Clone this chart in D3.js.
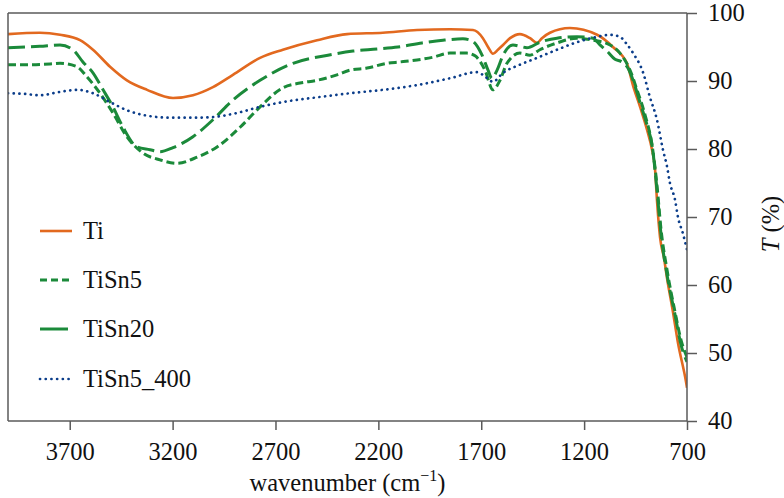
<!DOCTYPE html>
<html><head><meta charset="utf-8">
<script src="https://cdn.jsdelivr.net/npm/d3@7"></script>
<style>
body{margin:0;background:#fff}
svg text, svg tspan { font-family: "Liberation Serif", "Times New Roman", Tinos, Times !important; }
</style>
</head><body><svg id="c" width="784" height="498" font-family="Liberation Serif"></svg>
<script>
// ---- data ----
const seriesNames = ["Ti", "TiSn5", "TiSn20", "TiSn5_400"];
const xTicks = [3700, 3200, 2700, 2200, 1700, 1200, 700];
const yTicks = [40, 50, 60, 70, 80, 90, 100];

const tiWn = [4000,3845,3747,3650,3587,3504,3422,3324,3198,3101,3004,2907,2775,2664,2498,2352,2178,2012,1852,1740,1692,1667,1643,1619,1594,1560,1512,1463,1429,1405,1366,1269,1137,1060,992,962,928,894,870,855,846,831,812,797,768,744,705,700];
const tiT  = [96.9,97.1,96.8,96.0,94.6,92.1,90.1,88.7,87.5,87.9,89.1,90.9,93.4,94.6,96.0,96.9,97.1,97.5,97.6,97.5,96.3,95.0,94.0,94.6,95.3,96.3,96.9,96.3,95.6,96.3,97.1,97.8,96.8,95.0,92.6,89.3,86.2,82.8,79.9,76.9,72.5,67.0,64.0,61.0,56.0,51.5,45.8,44.9];

const tiSn5Wn = [4000,3893,3796,3747,3665,3616,3553,3490,3422,3344,3261,3179,3081,2984,2872,2775,2664,2581,2498,2401,2338,2255,2158,2095,2012,1934,1852,1769,1730,1682,1643,1609,1575,1512,1463,1415,1332,1235,1157,1074,1026,977,943,904,870,846,826,797,758,729,700];
const tiSn5T  = [92.4,92.4,92.5,92.6,92.1,90.6,88.2,85.3,81.8,79.4,78.4,77.9,78.8,80.3,83.2,86.2,89.0,89.7,90.1,90.9,91.6,91.9,92.6,92.8,93.1,93.5,94.1,94.1,93.7,91.6,88.7,90.1,92.6,94.1,93.8,94.6,95.6,96.3,96.0,95.3,94.1,91.6,88.7,85.0,80.6,74.7,68.1,62.2,56.0,51.9,49.4];

const tiSn20Wn = [4000,3845,3747,3684,3636,3587,3538,3490,3441,3373,3310,3261,3198,3101,3004,2907,2775,2615,2445,2323,2207,2105,1988,1886,1789,1745,1696,1667,1648,1623,1594,1546,1512,1478,1415,1332,1235,1157,1123,1089,1050,1016,987,962,928,894,870,846,826,797,758,729,700];
const tiSn20T  = [94.9,95.1,95.3,94.6,92.8,91.2,88.7,86.2,83.2,80.3,79.9,79.6,80.2,81.8,84.3,87.2,90.1,92.6,93.8,94.4,94.7,95.0,95.6,96.0,96.2,95.9,93.8,91.6,90.4,91.6,93.8,95.3,95.1,94.9,95.7,96.3,96.5,96.3,95.3,94.4,93.2,92.8,91.9,90.1,86.8,83.5,80.6,74.0,67.4,61.5,55.6,51.2,48.7];

const tiSn5_400Wn = [4000,3917,3845,3747,3665,3587,3504,3422,3324,3213,3101,3004,2887,2775,2664,2498,2338,2178,2012,1852,1721,1692,1643,1594,1512,1429,1332,1235,1137,1074,1026,992,962,913,880,846,817,797,783,758,744,720,700];
const tiSn5_400T  = [88.2,88.1,87.9,88.4,88.7,88.2,86.9,85.7,84.9,84.6,84.6,84.7,85.3,86.2,86.9,87.6,88.2,88.7,89.4,90.4,91.3,90.9,89.9,91.2,92.4,93.4,94.6,95.7,96.5,96.8,96.5,95.4,94.1,91.2,87.6,84.3,79.9,77.4,75.0,72.5,70.0,67.6,65.2];

const colors = ["#e2691f", "#1b8a3a", "#1b8a3a", "#0b3d8a"];
// ---- chart ----
const svg = d3.select("#c");
const L = 8, R = 687, T = 13, B = 421;
const x = d3.scaleLinear().domain([4000, 700]).range([L, R]);
const y = d3.scaleLinear().domain([40, 100]).range([B, T]);
const fs = "24.5px";
function serif(sel, fam) {
  return sel.attr("font-family", fam).style("font-family", `"${fam}"`).style("font-size", fs);
}

const series = [
  {name: seriesNames[0], wn: tiWn, t: tiT, color: colors[0], dash: null, w: 2.6},
  {name: seriesNames[1], wn: tiSn5Wn, t: tiSn5T, color: colors[1], dash: "8,4", w: 3},
  {name: seriesNames[2], wn: tiSn20Wn, t: tiSn20T, color: colors[2], dash: "17,6", w: 3},
  {name: seriesNames[3], wn: tiSn5_400Wn, t: tiSn5_400T, color: colors[3], dash: "0.1,5.6", w: 2.7, cap: "round"}
];

svg.append("defs").append("clipPath").attr("id", "clip")
  .append("rect").attr("x", L).attr("y", T - 2).attr("width", R - L).attr("height", B - T + 2);

const line = d3.line().x(d => x(d[0])).y(d => y(d[1])).curve(d3.curveMonotoneX);
const g = svg.append("g").attr("clip-path", "url(#clip)");
series.forEach(s => {
  const pts = s.wn.map((w, i) => [w, s.t[i]]);
  g.append("path").datum(pts).attr("d", line)
    .attr("fill", "none").attr("stroke", s.color).attr("stroke-width", s.w)
    .attr("stroke-dasharray", s.dash).attr("stroke-linecap", s.cap || "butt")
    .attr("stroke-linejoin", "round");
});

// frame
const frameColor = "#5a5a5a";
svg.append("line").attr("x1", L).attr("x2", R).attr("y1", T).attr("y2", T).attr("stroke", frameColor).attr("stroke-width", 1.5);
svg.append("line").attr("x1", L).attr("x2", L).attr("y1", T).attr("y2", B).attr("stroke", frameColor).attr("stroke-width", 1.5);

const xAxis = svg.append("g").attr("transform", `translate(0,${B})`)
  .call(d3.axisBottom(x).tickValues(xTicks).tickFormat(d3.format("d")).tickSize(9).tickPadding(13).tickSizeOuter(0));
const yAxis = svg.append("g").attr("transform", `translate(${R},0)`)
  .call(d3.axisRight(y).tickValues(yTicks).tickFormat(d3.format("d")).tickSize(10).tickPadding(11).tickSizeOuter(0));
[xAxis, yAxis].forEach(a => {
  a.attr("font-family", "Liberation Serif").attr("font-size", 24.5);
  a.select(".domain").attr("stroke", frameColor).attr("stroke-width", 1.5);
  a.selectAll(".tick line").attr("stroke", frameColor).attr("stroke-width", 1.5);
  serif(a.selectAll(".tick text").attr("fill", "#111"), "Times New Roman");
});
xAxis.select(".domain").attr("d", `M${L},0H${R}`);
yAxis.select(".domain").attr("d", `M0,${T}V${B}`);

// axis titles
const xt = serif(svg.append("text"), "Tinos").attr("x", (L + R) / 2).attr("y", 491).attr("text-anchor", "middle").attr("fill", "#111");
xt.append("tspan").text("wavenumber (cm");
xt.append("tspan").attr("dy", -10).style("font-size", "16px").text("\u22121");
xt.append("tspan").attr("dy", 10).text(")");

const yt = serif(svg.append("text"), "Tinos").attr("transform", `translate(779,${(T + B) / 2 + 7}) rotate(-90)`)
  .attr("text-anchor", "middle").attr("fill", "#111");
yt.append("tspan").style("font-style", "italic").text("T");
yt.append("tspan").text(" (%)");

// legend
const legY = [231, 280, 329, 379];
series.forEach((s, i) => {
  svg.append("line").attr("x1", 40).attr("x2", 72).attr("y1", legY[i]).attr("y2", legY[i])
    .attr("stroke", s.color).attr("stroke-width", s.w)
    .attr("stroke-dasharray", i === 1 ? "7,4" : (i === 2 ? "28,6" : s.dash))
    .attr("stroke-linecap", s.cap || "butt");
  serif(svg.append("text"), "Liberation Serif").attr("x", 83).attr("y", legY[i] + 8).attr("fill", "#111").text(s.name);
});
</script></body></html>
